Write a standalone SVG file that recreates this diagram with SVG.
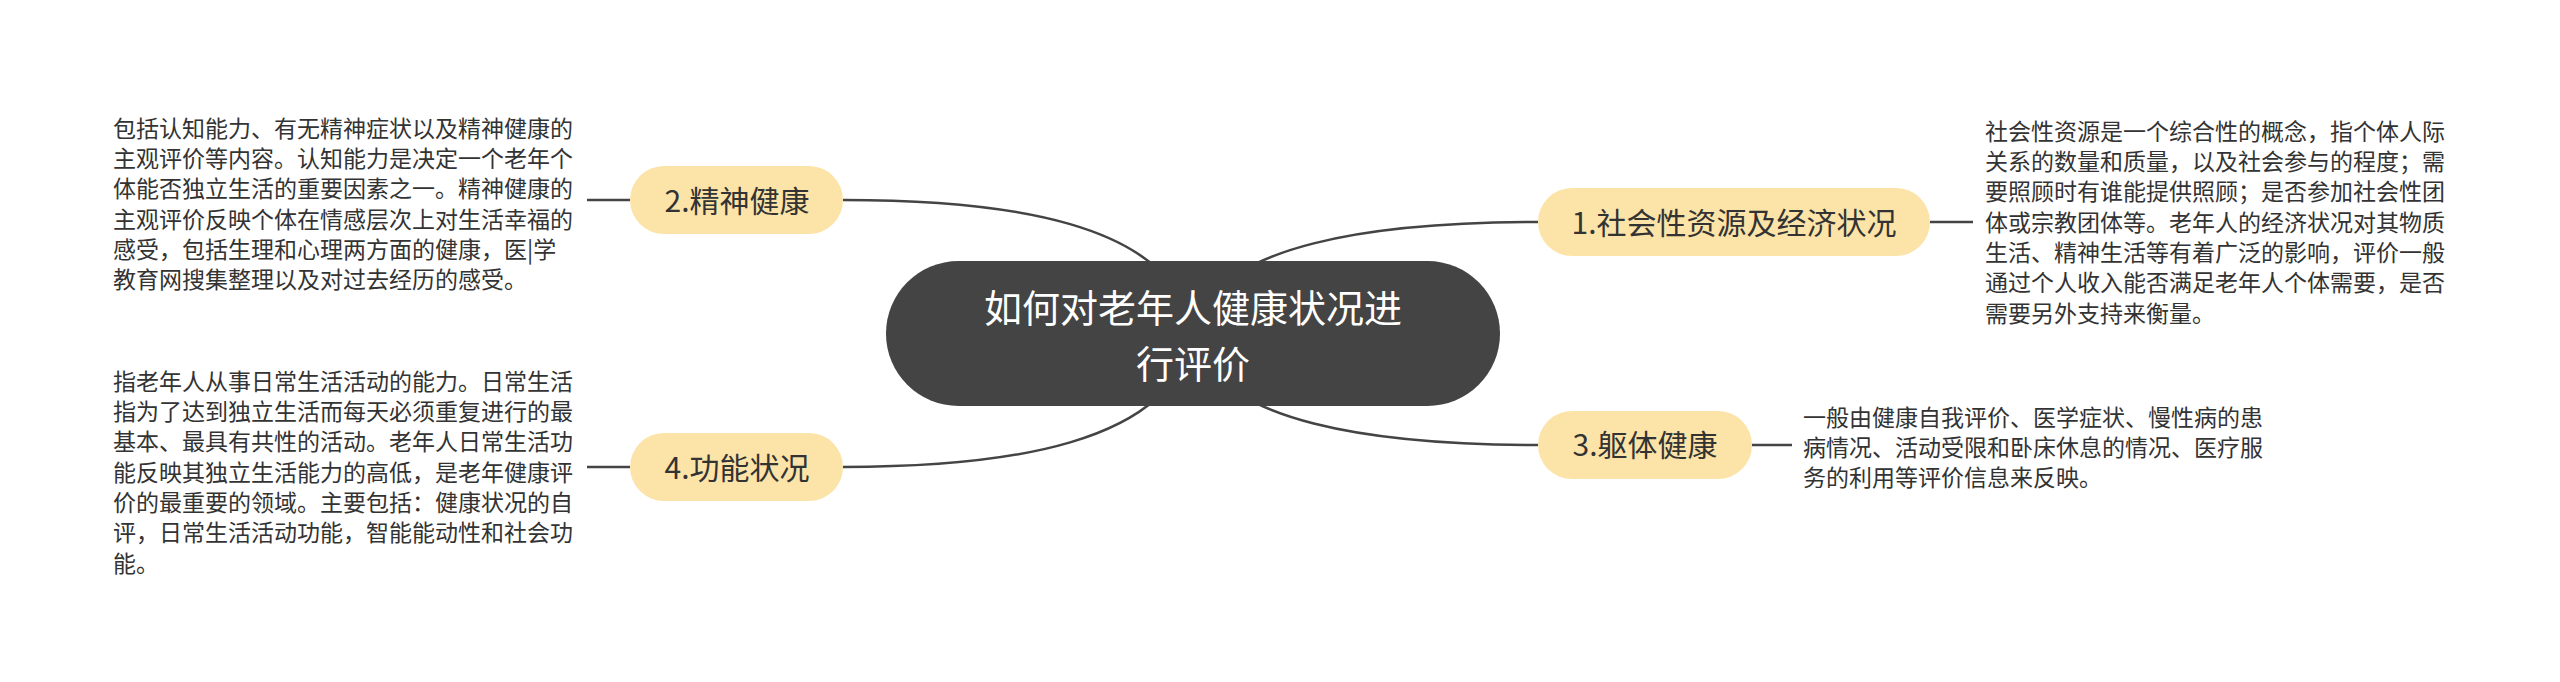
<svg xmlns="http://www.w3.org/2000/svg" width="2560" height="682" viewBox="0 0 2560 682">
<style>
text{font-family:"Noto Sans CJK SC","Noto Sans",sans-serif;}
.conn{fill:none;stroke:#444;stroke-width:2.5;}
.root{fill:#444444;}
.rootT{fill:#ffffff;font-size:38px;text-anchor:middle;}
.br{fill:#FCE3A8;}
.brT{fill:#333;font-size:30px;text-anchor:middle;}
.det{fill:#333;font-size:23px;}
</style>
<rect width="2560" height="682" fill="#ffffff"/>
<g id="connectors">
<path class="conn" d="M843,200 C1000,200 1175,220 1193,333"/>
<path class="conn" d="M843,467 C1000,467 1175,446 1193,333"/>
<path class="conn" d="M1538,222 C1383,222 1210,242 1193,333"/>
<path class="conn" d="M1538,445 C1383,445 1210,425 1193,333"/>
<line class="conn" x1="587" y1="200" x2="630" y2="200"/>
<line class="conn" x1="587" y1="467" x2="630" y2="467"/>
<line class="conn" x1="1930" y1="222" x2="1973" y2="222"/>
<line class="conn" x1="1752" y1="445" x2="1792" y2="445"/>
</g>
<g id="root">
<rect class="root" x="886" y="261" width="614" height="145" rx="72.5"/>
<text class="rootT" x="1193" y="322"><tspan x="1193">如何对老年人健康状况进</tspan><tspan x="1193" dy="55.5">行评价</tspan></text>
</g>
<g id="node1">
<rect class="br" x="1538" y="188" width="392" height="68" rx="34"/>
<text class="brT" x="1734" y="234">1.社会性资源及经济状况</text>
</g>
<g id="node2">
<rect class="br" x="630" y="166" width="213" height="68" rx="34"/>
<text class="brT" x="737" y="212">2.精神健康</text>
</g>
<g id="node3">
<rect class="br" x="1538" y="411" width="214" height="68" rx="34"/>
<text class="brT" x="1645" y="456">3.躯体健康</text>
</g>
<g id="node4">
<rect class="br" x="630" y="433" width="213" height="68" rx="34"/>
<text class="brT" x="737" y="479">4.功能状况</text>
</g>
<g id="detail2">
<text class="det" x="113" y="136.7">
<tspan x="113">包括认知能力、有无精神症状以及精神健康的</tspan>
<tspan x="113" dy="30.3">主观评价等内容。认知能力是决定一个老年个</tspan>
<tspan x="113" dy="30.3">体能否独立生活的重要因素之一。精神健康的</tspan>
<tspan x="113" dy="30.3">主观评价反映个体在情感层次上对生活幸福的</tspan>
<tspan x="113" dy="30.3">感受，包括生理和心理两方面的健康，医|学</tspan>
<tspan x="113" dy="30.3">教育网搜集整理以及对过去经历的感受。</tspan>
</text>
</g>
<g id="detail4">
<text class="det" x="113" y="389.7">
<tspan x="113">指老年人从事日常生活活动的能力。日常生活</tspan>
<tspan x="113" dy="30.3">指为了达到独立生活而每天必须重复进行的最</tspan>
<tspan x="113" dy="30.3">基本、最具有共性的活动。老年人日常生活功</tspan>
<tspan x="113" dy="30.3">能反映其独立生活能力的高低，是老年健康评</tspan>
<tspan x="113" dy="30.3">价的最重要的领域。主要包括：健康状况的自</tspan>
<tspan x="113" dy="30.3">评，日常生活活动功能，智能能动性和社会功</tspan>
<tspan x="113" dy="30.3">能。</tspan>
</text>
</g>
<g id="detail1">
<text class="det" x="1985" y="139.7">
<tspan x="1985">社会性资源是一个综合性的概念，指个体人际</tspan>
<tspan x="1985" dy="30.3">关系的数量和质量，以及社会参与的程度；需</tspan>
<tspan x="1985" dy="30.3">要照顾时有谁能提供照顾；是否参加社会性团</tspan>
<tspan x="1985" dy="30.3">体或宗教团体等。老年人的经济状况对其物质</tspan>
<tspan x="1985" dy="30.3">生活、精神生活等有着广泛的影响，评价一般</tspan>
<tspan x="1985" dy="30.3">通过个人收入能否满足老年人个体需要，是否</tspan>
<tspan x="1985" dy="30.3">需要另外支持来衡量。</tspan>
</text>
</g>
<g id="detail3">
<text class="det" x="1803" y="425.7">
<tspan x="1803">一般由健康自我评价、医学症状、慢性病的患</tspan>
<tspan x="1803" dy="30.3">病情况、活动受限和卧床休息的情况、医疗服</tspan>
<tspan x="1803" dy="30.3">务的利用等评价信息来反映。</tspan>
</text>
</g>
</svg>
